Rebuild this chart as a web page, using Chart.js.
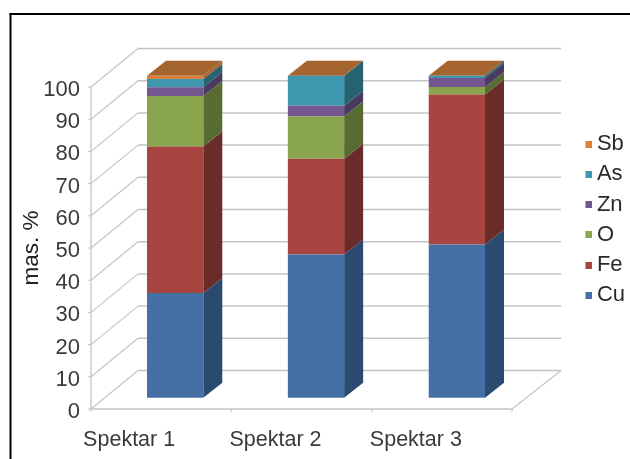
<!DOCTYPE html>
<html>
<head>
<meta charset="utf-8">
<script src="https://cdn.jsdelivr.net/npm/chart.js@4"></script>
<style>html,body{margin:0;padding:0;background:#fff}canvas{display:block}</style>
</head>
<body>
<canvas id="c" width="630" height="459"></canvas>
<script>
const categories = ["Spektar 1", "Spektar 2", "Spektar 3"];
const Cu = [32.5, 44.5, 47.6];
const Fe = [45.5, 29.7, 46.6];
const O  = [15.7, 13.2, 2.3];
const Zn = [2.7, 3.3, 2.8];
const As = [2.6, 9.3, 0.7];
const Sb = [1.0, 0, 0];
const yTicks = [0,10,20,30,40,50,60,70,80,90,100];

const frontColors = {Cu:"#4470A6",Fe:"#A94541",O:"#89A54E",Zn:"#74578F",As:"#3F96AF",Sb:"#D9823C"};
const sideColors  = {Cu:"#2B4A6F",Fe:"#6B2C29",O:"#586B32",Zn:"#4A3A5F",As:"#276372",Sb:"#A5652E"};
const FONT = "'Liberation Sans', Arial, sans-serif";
const TEXT = "#3a3a3a";
const CHART_LEFT = 104.7, CHART_RIGHT = 527.3, CHART_TOP = 87, CHART_BOTTOM = 409;
const PAD_LEFT = 18;
const BAR_DX = 19, BAR_DY = 15;      // depth of a bar
const WALL_DX = 47, WALL_DY = 38.5;  // depth of the floor
const AXIS_X = 91, BACK_RIGHT = 561, FRONT_RIGHT = 512;
const GRID = "#c4c4c4";
const LABEL_SHIFT = [-46, -40.5, -41];

function poly(ctx, pts, fill){
  ctx.beginPath();
  pts.forEach((p,i)=> i ? ctx.lineTo(p[0],p[1]) : ctx.moveTo(p[0],p[1]));
  ctx.closePath();
  ctx.fillStyle = fill;
  ctx.fill();
}
function line(ctx, x1,y1,x2,y2,color,w){
  ctx.beginPath(); ctx.moveTo(x1,y1); ctx.lineTo(x2,y2);
  ctx.strokeStyle=color; ctx.lineWidth=w; ctx.stroke();
}

const depthPlugin = {
  id: "depth",
  beforeLayout(chart){
    const lg = chart.legend;
    if (lg && !lg._wrapped){
      const f = lg.fit;
      lg.fit = function(){ f.call(this); this.width = 630 - CHART_RIGHT; };
      lg._wrapped = true;
    }
  },
  afterLayout(chart){
    chart.legend.left = 576.7;
    chart.legend.right = 630;
    chart.legend.top = 125;
  },
  beforeDraw(chart){
    const ctx = chart.ctx;
    ctx.save();
    ctx.fillStyle = "#000";
    ctx.fillRect(9.5, 13, 621, 2);
    ctx.fillRect(9.5, 13, 2, 446);
    ctx.restore();
  },
  beforeDatasetsDraw(chart){
    const ctx = chart.ctx, y = chart.scales.y;
    ctx.save();
    yTicks.forEach(t=>{
      const py = y.getPixelForValue(t);
      line(ctx, AXIS_X-3, py, AXIS_X, py, GRID, 1);
      line(ctx, AXIS_X, py, AXIS_X+WALL_DX, py-WALL_DY, GRID, 1.2);
      line(ctx, AXIS_X+WALL_DX, py-WALL_DY, BACK_RIGHT, py-WALL_DY, GRID, 1.5);
    });
    line(ctx, AXIS_X, y.getPixelForValue(100), AXIS_X, y.getPixelForValue(0), GRID, 1.3);
    const py0 = y.getPixelForValue(0);
    line(ctx, AXIS_X, py0, FRONT_RIGHT, py0, GRID, 1.5);
    line(ctx, FRONT_RIGHT, py0, BACK_RIGHT, py0-WALL_DY, GRID, 1.2);
    const band = (FRONT_RIGHT-AXIS_X)/categories.length;
    for(let i=0;i<=categories.length;i++){
      const tx = AXIS_X + band*i;
      line(ctx, tx, py0, tx, py0+3, GRID, 1);
    }
    const metas = chart.data.datasets.map((d,i)=>chart.getDatasetMeta(i));
    metas.forEach(meta=>{
      const color = meta._dataset.sideColor;
      meta.data.forEach(bar=>{
        const r = bar.x + bar.width/2;
        if (Math.abs(bar.base-bar.y) < 0.01) return;
        poly(ctx, [[r,bar.y],[r+BAR_DX,bar.y-BAR_DY],[r+BAR_DX,bar.base-BAR_DY],[r,bar.base]], color);
      });
    });
    const last = metas[metas.length-1];
    last.data.forEach(bar=>{
      const l = bar.x - bar.width/2, r = bar.x + bar.width/2;
      poly(ctx, [[l,bar.y],[r,bar.y],[r+BAR_DX,bar.y-BAR_DY],[l+BAR_DX,bar.y-BAR_DY]], last._dataset.sideColor);
    });
    ctx.restore();
  }
};

function swatch(color){
  const cv = document.createElement("canvas");
  cv.width = 14; cv.height = 7;
  const g = cv.getContext("2d");
  g.fillStyle = color;
  g.fillRect(7,0,7,7);
  return cv;
}

function series(label, data, key){
  return {label, data, backgroundColor: frontColors[key], sideColor: sideColors[key],
          borderWidth: 0, yAxisID: "yBar", clip: false,
          barPercentage: 56.5/140.87, categoryPercentage: 1};
}

new Chart(document.getElementById("c"), {
  type: "bar",
  data: {
    labels: categories,
    datasets: [
      series("Cu", Cu, "Cu"),
      series("Fe", Fe, "Fe"),
      series("O",  O,  "O"),
      series("Zn", Zn, "Zn"),
      series("As", As, "As"),
      series("Sb", Sb, "Sb")
    ]
  },
  plugins: [depthPlugin],
  options: {
    responsive: false,
    animation: false,
    devicePixelRatio: 1,
    layout: {padding: {left: PAD_LEFT, top: CHART_TOP, right: 0, bottom: 0}},
    plugins: {
      tooltip: {enabled: false},
      title: {display: false},
      legend: {
        position: "right",
        align: "start",
        reverse: true,
        labels: {
          usePointStyle: true,
          pointStyleWidth: 1,
          boxHeight: 7,
          padding: 8.2,
          color: "#2a2a2a",
          font: {family: FONT, size: 22, lineHeight: 1.2},
          generateLabels(chart){
            return chart.data.datasets.map((d,i)=>({
              text: d.label, datasetIndex: i, hidden: false,
              fillStyle: d.backgroundColor, strokeStyle: d.backgroundColor, lineWidth: 0,
              fontColor: "#2a2a2a", pointStyle: swatch(d.backgroundColor)
            }));
          }
        }
      }
    },
    scales: {
      x: {
        stacked: true,
        grid: {display: false, drawTicks: false},
        border: {display: false},
        ticks: {color: TEXT, font: {family: FONT, size: 21.5}, padding: 18,
                autoSkip: false, maxRotation: 0, minRotation: 0},
        afterFit(s){
          s.height = 459 - CHART_BOTTOM;
          if (!s._shifted){
            const g = s.getPixelForTick.bind(s);
            s.getPixelForTick = i => g(i) + LABEL_SHIFT[i];
            s._shifted = true;
          }
        }
      },
      y: {
        min: 0, max: 100,
        grid: {display: false, drawTicks: false},
        border: {display: false},
        afterBuildTicks(s){ s.ticks = yTicks.map(v=>({value:v})); },
        ticks: {color: TEXT, font: {family: FONT, size: 22}, padding: 24.7, labelOffset: 3, autoSkip: false},
        title: {display: true, text: "mas. %", color: "#222", font: {family: FONT, size: 22.5}, padding: 0},
        afterFit(s){ s.width = CHART_LEFT - PAD_LEFT; }
      },
      yBar: {
        display: false, stacked: true, min: -3.5, max: 96.5
      }
    }
  }
});
</script>
</body>
</html>
